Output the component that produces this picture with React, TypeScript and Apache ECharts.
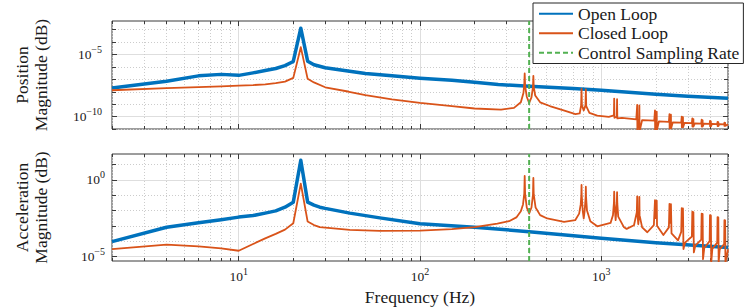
import React, { useEffect, useRef } from 'react';
import * as echarts from 'echarts';

const FONT = '"Liberation Serif", "Times New Roman", serif';

// Frequencies in Hz; magnitudes given as decades (log10 of the magnitude).
// ---- Position (top plot) ----
const posOpenLoopFreq = [2, 4, 6, 8, 10, 12, 14, 16, 18, 20, 22, 24, 26, 30, 40, 50, 70, 100, 150, 200, 270, 400, 700, 1000, 2000, 3000, 5000];
const posOpenLoopDec = [-7.69, -7.15, -6.72, -6.6, -6.68, -6.48, -6.29, -6.13, -5.89, -5.56, -2.88, -5.54, -5.83, -6.07, -6.33, -6.53, -6.72, -6.91, -7.08, -7.23, -7.42, -7.56, -7.74, -7.88, -8.2, -8.36, -8.52];

const posClosedLoopFreq = [
  2, 4, 6, 8, 10, 12, 14, 16, 18, 20, 22, 24, 26, 30, 40, 50, 70, 100, 150, 200, 280, 330, 360, 372, 376, 378, 380, 388, 400, 412, 420, 422, 424, 432, 460, 520, 620, 720, 760, 774, 778, 782, 800, 818, 822, 826, 860, 950, 1100,
  1174, 1178, 1182, 1200, 1218, 1222, 1226, 1300,
  1560, 1578, 1582, 1600, 1618, 1622, 1626, 1680,
  1960, 1978, 1982, 2018, 2022, 2026, 2080,
  2360, 2378, 2382, 2422, 2426, 2480,
  2760, 2778, 2782, 2822, 2826, 2880,
  3160, 3178, 3182, 3222, 3226, 3280,
  3560, 3578, 3582, 3622, 3626, 3680,
  3960, 3978, 3982, 4022, 4026, 4080,
  4360, 4378, 4382, 4422, 4426, 4480,
  4760, 4778, 4782, 4822, 4826, 5000,
];
const posClosedLoopDec = [
  -7.88, -7.7, -7.63, -7.57, -7.5, -7.46, -7.4, -7.31, -7.18, -6.88, -4.41, -6.96, -7.25, -7.64, -7.98, -8.28, -8.62, -8.9, -9.15, -9.35, -9.44, -9.3, -8.85, -8.1, -7.4, -6.53, -7.5, -8.4, -8.9, -8.45, -7.6, -6.72, -7.6, -8.3, -8.85, -9.15, -9.5, -9.8, -9.75, -9.1, -7.77, -9.1, -9.5, -9.1, -7.82, -9.15, -9.7, -9.92, -10.02,
  -9.9, -8.55, -10.1, -10.05, -10.0, -8.6, -10.15, -10.1,
  -10.22, -9.05, -11.2, -10.3, -10.25, -9.1, -11.2, -10.28,
  -10.33, -9.5, -11.1, -10.35, -9.6, -11.1, -10.38,
  -10.42, -9.8, -10.95, -9.85, -10.95, -10.46,
  -10.48, -10.0, -10.85, -10.05, -10.85, -10.5,
  -10.52, -10.15, -10.8, -10.2, -10.8, -10.54,
  -10.56, -10.25, -10.8, -10.3, -10.8, -10.57,
  -10.58, -10.35, -10.78, -10.38, -10.78, -10.59,
  -10.6, -10.42, -10.76, -10.45, -10.76, -10.61,
  -10.62, -10.48, -10.75, -10.5, -10.75, -10.63,
];

// ---- Acceleration (bottom plot) ----
const accOpenLoopFreq = [2, 4, 6, 8, 10, 12, 14, 16, 18, 20, 22, 24, 26, 28, 30, 41, 60, 100, 200, 300, 400, 1000, 2000, 5000];
const accOpenLoopDec = [-4.03, -3.09, -2.8, -2.6, -2.43, -2.33, -2.17, -2.02, -1.78, -1.45, 1.29, -1.45, -1.65, -1.78, -1.86, -2.17, -2.48, -2.87, -3.1, -3.26, -3.38, -3.82, -4.1, -4.42];

const accClosedLoopFreq = [
  2, 4, 6, 8, 10, 12, 14, 16, 18, 20, 22, 24, 26, 28, 41, 60, 100, 150, 200, 267, 310, 340, 360, 370, 376, 378, 380, 388, 400, 412, 420, 422, 424, 434, 460, 503, 623, 718,
  755, 770, 776, 778, 780, 790, 800, 810, 820, 822, 824, 834, 870, 950, 1125,
  1160, 1174, 1178, 1182, 1200, 1218, 1222, 1226, 1240, 1330, 1380, 1515,
  1570, 1578, 1582, 1600, 1618, 1622, 1626, 1680, 1795,
  1950, 1978, 1982, 2018, 2022, 2030, 2200,
  2360, 2378, 2382, 2418, 2422, 2440, 2650,
  2760, 2778, 2782, 2818, 2822, 2840, 2900,
  3160, 3178, 3182, 3218, 3222, 3240, 3300,
  3560, 3578, 3582, 3618, 3622, 3640, 3700,
  3960, 3978, 3982, 4018, 4022, 4040, 4100,
  4360, 4378, 4382, 4418, 4422, 4440, 4500,
  4760, 4778, 4782, 4818, 4822, 4840, 5000,
];
const accClosedLoopDec = [
  -4.52, -4.23, -4.34, -4.47, -4.63, -4.19, -3.82, -3.53, -3.25, -2.83, -0.24, -2.72, -2.95, -3.09, -3.27, -3.33, -3.31, -3.22, -3.09, -2.85, -2.7, -2.45, -2.05, -1.6, -0.9, 0.26, -0.9, -1.8, -2.19, -1.8, -0.95, 0.13, -0.95, -1.8, -2.3, -2.52, -2.74, -2.63,
  -2.2, -1.6, -1.0, -0.33, -1.0, -2.0, -2.52, -2.0, -1.1, -0.44, -1.1, -2.0, -2.7, -3.03, -2.81,
  -2.3, -1.5, -0.77, -1.5, -2.63, -1.55, -0.8, -1.55, -2.4, -3.07, -3.2, -2.96,
  -2.1, -1.07, -2.2, -2.9, -2.2, -1.1, -2.3, -3.1, -3.42,
  -2.95, -1.32, -2.5, -2.5, -1.35, -3.0, -3.6,
  -3.1, -1.56, -2.8, -2.8, -1.58, -3.5, -3.95,
  -3.4, -1.84, -3.0, -3.0, -1.86, -4.52, -4.1,
  -3.7, -2.08, -3.2, -3.2, -2.1, -4.74, -4.3,
  -3.9, -2.2, -3.4, -3.4, -2.22, -5.18, -4.45,
  -4.0, -2.3, -3.5, -3.5, -2.32, -5.4, -4.5,
  -4.1, -2.43, -3.6, -3.6, -2.45, -5.4, -4.55,
  -4.2, -2.63, -3.7, -3.7, -2.65, -5.4, -4.55,
];

const samplingRateHz = 400;

// Axis ranges and labelled ticks
const freqRangeHz = [2, 5000];
const posRange = [1e-11, 5e-3];
const accRange = [5e-6, 50];
const freqMajorDecades = [1, 2, 3];
const posMajorDecades = [-10, -5];
const accMajorDecades = [-5, 0];

const legendNames = ['Open Loop', 'Closed Loop', 'Control Sampling Rate'];
const BLUE = '#0072BD';
const ORANGE = '#D95319';
const GREEN = '#52b152';
const AXIS_COLOR = '#3a3a3a';
const MAJOR_GRID = '#dedede';
const MINOR_GRID = '#cccccc';
const TEXT_COLOR = '#1a1a1a';

const lg = Math.log10;

function toPoints(freq: number[], dec: number[]) {
  return freq.map((f, i) => [lg(f), dec[i]]);
}

function supLabel(v: number) {
  const r = Math.round(v);
  const s = r < 0 ? '\u2212' + Math.abs(r) : String(r);
  return `{b|10}{s|${s}}`;
}

const rich = {
  b: { fontFamily: FONT, fontSize: 13.5, lineHeight: 14, color: TEXT_COLOR },
  s: { fontFamily: FONT, fontSize: 10, lineHeight: 12, padding: [0, 0, 10, 0], color: TEXT_COLOR },
};

const xMin = lg(freqRangeHz[0]);
const xMax = lg(freqRangeHz[1]);

function minorFreqDecades() {
  const out: number[] = [];
  for (let d = 0; d <= 3; d++) {
    for (let k = 2; k <= 9; k++) {
      const v = lg(k * Math.pow(10, d));
      if (v > xMin - 1e-9 && v < xMax + 1e-9) out.push(v);
    }
  }
  return out;
}

function minorDecades(min: number, max: number, major: number[]) {
  const out: number[] = [];
  for (let d = Math.ceil(min); d <= Math.floor(max); d++) if (!major.includes(d)) out.push(d);
  return out;
}

const tickStyle = { color: AXIS_COLOR, width: 1 };
const noLine = { show: false, onZero: false };

function makeXAxes(gridIndex: number, showLabels: boolean) {
  const base: any = { gridIndex, type: 'value', min: xMin, max: xMax, axisLine: noLine };
  const minor = minorFreqDecades();
  return [
    {
      ...base,
      position: 'bottom',
      axisTick: { show: true, inside: true, length: 5, customValues: freqMajorDecades, lineStyle: tickStyle },
      axisLabel: { show: showLabels, customValues: freqMajorDecades, margin: 8, formatter: supLabel, rich },
      splitLine: { show: true, lineStyle: { color: MAJOR_GRID, width: 1 } },
      name: showLabels ? 'Frequency (Hz)' : '',
      nameLocation: 'middle',
      nameGap: 26,
      nameTextStyle: { fontFamily: FONT, fontSize: 17.5, lineHeight: 20, color: TEXT_COLOR },
    },
    {
      ...base,
      position: 'bottom',
      axisTick: { show: true, inside: true, length: 3, customValues: minor, lineStyle: tickStyle },
      axisLabel: { show: false },
      splitLine: { show: true, lineStyle: { color: MINOR_GRID, width: 1, type: [1, 2] } },
    },
    {
      ...base,
      position: 'top',
      axisTick: { show: true, inside: true, length: 5, customValues: freqMajorDecades, lineStyle: tickStyle },
      axisLabel: { show: false },
      splitLine: { show: false },
    },
    {
      ...base,
      position: 'top',
      axisTick: { show: true, inside: true, length: 3, customValues: minor, lineStyle: tickStyle },
      axisLabel: { show: false },
      splitLine: { show: false },
    },
  ];
}

function makeYAxes(gridIndex: number, range: number[], major: number[], name: string, labelMargin: number, nameGap: number) {
  const min = lg(range[0]);
  const max = lg(range[1]);
  const minor = minorDecades(min, max, major);
  const base: any = { gridIndex, type: 'value', min, max, axisLine: noLine };
  return [
    {
      ...base,
      position: 'left',
      axisTick: { show: true, inside: true, length: 5, customValues: major, lineStyle: tickStyle },
      axisLabel: { show: true, customValues: major, margin: labelMargin, formatter: supLabel, rich },
      splitLine: { show: true, lineStyle: { color: MAJOR_GRID, width: 1 } },
      name,
      nameLocation: 'middle',
      nameRotate: 90,
      nameGap,
      nameTextStyle: { fontFamily: FONT, fontSize: 17.5, lineHeight: 19, color: TEXT_COLOR },
    },
    {
      ...base,
      position: 'left',
      axisTick: { show: true, inside: true, length: 4, customValues: minor, lineStyle: tickStyle },
      axisLabel: { show: false },
      splitLine: { show: true, lineStyle: { color: MINOR_GRID, width: 1, type: [1, 2] } },
    },
    {
      ...base,
      position: 'right',
      axisTick: { show: true, inside: true, length: 5, customValues: major, lineStyle: tickStyle },
      axisLabel: { show: false },
      splitLine: { show: false },
    },
    {
      ...base,
      position: 'right',
      axisTick: { show: true, inside: true, length: 4, customValues: minor, lineStyle: tickStyle },
      axisLabel: { show: false },
      splitLine: { show: false },
    },
  ];
}

function makeSeries(gridAxis: number, ol: number[][], cl: number[][], range: number[]) {
  const common = { type: 'line', xAxisIndex: gridAxis, yAxisIndex: gridAxis, symbol: 'none', showSymbol: false, silent: true };
  return [
    { ...common, name: legendNames[0], data: ol, lineStyle: { color: BLUE, width: 3.5, join: 'round' }, itemStyle: { color: BLUE } },
    { ...common, name: legendNames[1], data: cl, lineStyle: { color: ORANGE, width: 1.8, join: 'round' }, itemStyle: { color: ORANGE } },
    {
      ...common,
      name: legendNames[2],
      data: [
        [lg(samplingRateHz), lg(range[0])],
        [lg(samplingRateHz), lg(range[1])],
      ],
      lineStyle: { color: GREEN, width: 2, type: [5, 3] },
      itemStyle: { color: GREEN },
    },
  ];
}

export default function App() {
  const ref = useRef<HTMLDivElement>(null);
  useEffect(() => {
    document.body.style.margin = '0';
    const chart = echarts.init(ref.current!, null, { renderer: 'svg' });
    const option: any = {
      animation: false,
      backgroundColor: '#ffffff',
      grid: [
        { left: 112, right: 19, top: 21, height: 108, show: true, borderColor: AXIS_COLOR, borderWidth: 1, backgroundColor: 'transparent' },
        { left: 112, right: 19, top: 154, height: 107, show: true, borderColor: AXIS_COLOR, borderWidth: 1, backgroundColor: 'transparent' },
      ],
      xAxis: [...makeXAxes(0, false), ...makeXAxes(1, true)],
      yAxis: [
        ...makeYAxes(0, posRange, posMajorDecades, 'Position\nMagnitude (dB)', 10, 62),
        ...makeYAxes(1, accRange, accMajorDecades, 'Acceleration\nMagnitude (dB)', 7, 62),
      ],
      legend: {
        data: legendNames,
        orient: 'vertical',
        left: 533,
        top: 3,
        itemWidth: 34,
        itemHeight: 12,
        itemGap: 0,
        padding: [1, 4, 1, 5],
        borderColor: '#262626',
        borderWidth: 1,
        backgroundColor: '#ffffff',
        selectedMode: false,
        z: 10,
        itemStyle: { opacity: 0 },
        textStyle: { fontFamily: FONT, fontSize: 17.5, lineHeight: 19.5, color: TEXT_COLOR },
      },
      series: [
        ...makeSeries(0, toPoints(posOpenLoopFreq, posOpenLoopDec), toPoints(posClosedLoopFreq, posClosedLoopDec), posRange),
        ...makeSeries(4, toPoints(accOpenLoopFreq, accOpenLoopDec), toPoints(accClosedLoopFreq, accClosedLoopDec), accRange),
      ],
    };
    chart.setOption(option);
    return () => chart.dispose();
  }, []);
  return <div ref={ref} style={{ width: 747, height: 308 }} />;
}
